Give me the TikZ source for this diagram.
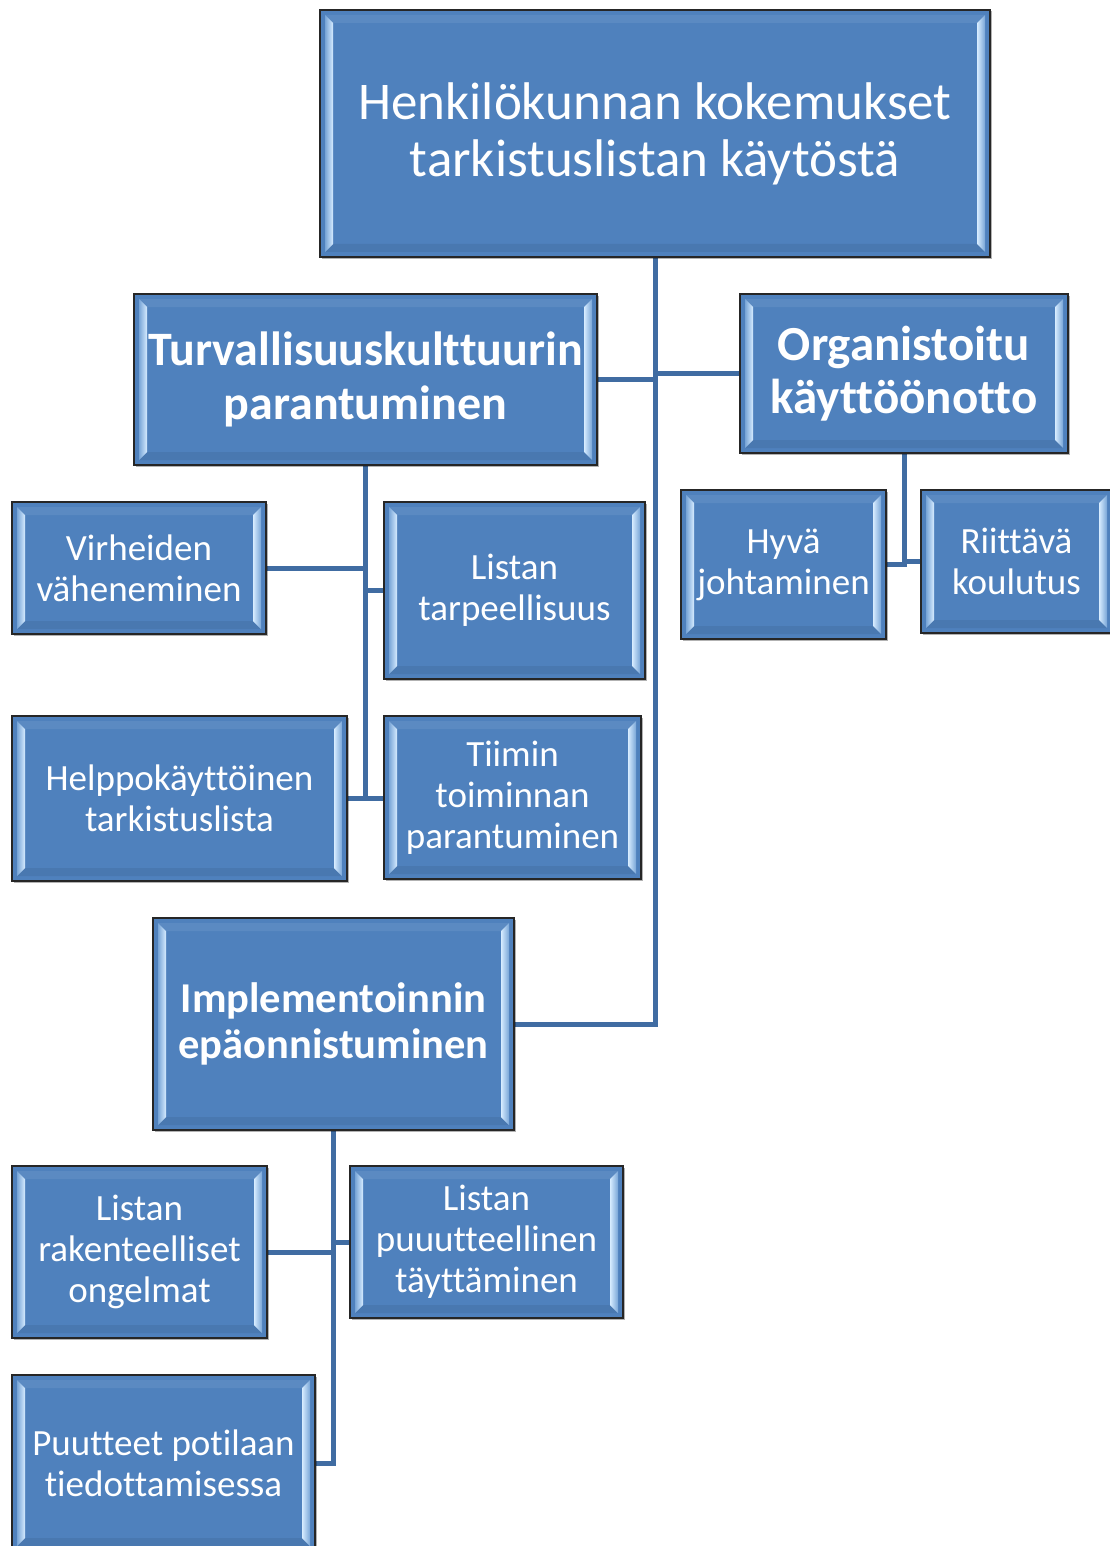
\documentclass[tikz,border=0pt]{standalone}
\usepackage{fontspec}
\setmainfont[Ligatures=CommonOff]{Carlito}
\usetikzlibrary{shadows,backgrounds}
\definecolor{boxblue}{RGB}{79,129,189}
\definecolor{connblue}{RGB}{64,108,162}
\definecolor{bevlight}{RGB}{215,236,255}
\definecolor{bevmid}{RGB}{120,165,215}
\newcommand\bevelstrips{%
  \coordinate (bnw) at (path picture bounding box.north west);
  \coordinate (bne) at (path picture bounding box.north east);
  \coordinate (bsw) at (path picture bounding box.south west);
  \coordinate (bse) at (path picture bounding box.south east);
  \fill[boxblue!93!white] ([shift={(5pt,-5pt)}]bnw) -- ([shift={(-5pt,-5pt)}]bne) -- ([shift={(-13pt,-13pt)}]bne) -- ([shift={(13pt,-13pt)}]bnw) -- cycle;
  \fill[boxblue!93!black] ([shift={(5pt,5pt)}]bsw) -- ([shift={(-5pt,5pt)}]bse) -- ([shift={(-13pt,13pt)}]bse) -- ([shift={(13pt,13pt)}]bsw) -- cycle;
  \shade[left color=bevmid, right color=bevlight] ([shift={(5pt,-5pt)}]bnw) -- ([shift={(13pt,-13pt)}]bnw) -- ([shift={(13pt,13pt)}]bsw) -- ([shift={(5pt,5pt)}]bsw) -- cycle;
  \shade[left color=bevlight, right color=bevmid] ([shift={(-13pt,-13pt)}]bne) -- ([shift={(-5pt,-5pt)}]bne) -- ([shift={(-5pt,5pt)}]bse) -- ([shift={(-13pt,13pt)}]bse) -- cycle;
}
\tikzset{
  bx/.style={draw=black!85, line width=1.6pt, fill=boxblue, text=white, align=center,
    inner sep=0pt,
    drop shadow={shadow xshift=1.5pt, shadow yshift=-1.5pt, opacity=0.3, fill=black},
    path picture={\bevelstrips}},
  bigtxt/.style={font=\fontsize{53}{57}\selectfont},
  boldtxt/.style={font=\fontsize{48}{54}\selectfont\bfseries},
  smalltxt/.style={font=\fontsize{37}{41}\selectfont},
  conn/.style={draw=connblue, line width=5pt, line join=miter},
}
\begin{document}
\begin{tikzpicture}[x=1pt,y=-1pt]
\useasboundingbox (0,0) rectangle (1110,1546);
\node[bx, bigtxt, minimum width=670pt, minimum height=247pt] (top) at (655,133.5) {Henkilökunnan kokemukset\\tarkistuslistan käytöstä};
\node[bx, boldtxt, minimum width=463pt, minimum height=171pt] (turv) at (365.5,379.5) {Turvallisuuskulttuurin\\parantuminen};
\node[bx, font=\fontsize{49}{53}\selectfont\bfseries, minimum width=328pt, minimum height=159pt] (org) at (904,373.5) {Organistoitu\\käyttöönotto};
\node[bx, smalltxt, minimum width=254pt, minimum height=132pt] (virh) at (139,568) {Virheiden\\väheneminen};
\node[bx, smalltxt, minimum width=261pt, minimum height=177pt] (list) at (514.5,590.5) {Listan\\tarpeellisuus};
\node[bx, smalltxt, minimum width=335pt, minimum height=165pt] (help) at (179.5,798.5) {Helppokäyttöinen\\tarkistuslista};
\node[bx, smalltxt, minimum width=257pt, minimum height=163pt] (tiim) at (512.5,797.5) {Tiimin\\toiminnan\\parantuminen};
\node[bx, font=\fontsize{42.5}{46}\selectfont\bfseries, minimum width=361pt, minimum height=212pt] (impl) at (333.5,1024) {Implementoinnin\\epäonnistuminen};
\node[bx, smalltxt, minimum width=205pt, minimum height=149pt] (hyva) at (783.5,564.5) {Hyvä\\johtaminen};
\node[bx, smalltxt, minimum width=191pt, minimum height=143pt] (riit) at (1016.5,561.5) {Riittävä\\koulutus};
\node[bx, smalltxt, minimum width=255pt, minimum height=172pt] (rak) at (139.5,1252) {Listan\\rakenteelliset\\ongelmat};
\node[bx, smalltxt, minimum width=273pt, minimum height=152pt] (puu) at (486.5,1242) {Listan\\puuutteellinen\\täyttäminen};
\node[bx, smalltxt, minimum width=303pt, minimum height=176pt] (puut) at (163.5,1463) {Puutteet potilaan\\tiedottamisessa};
\begin{scope}[on background layer]
\draw[conn] (top.south) -- (top.south |- impl.east) -- (impl.east);
\draw[conn] (turv.east) -- (top.south |- turv.east);
\draw[conn] (top.south |- org.west) -- (org.west);
\draw[conn] (turv.south) -- (turv.south |- help.east);
\draw[conn] (virh.east) -- (turv.south |- virh.east);
\draw[conn] (turv.south |- list.west) -- (list.west);
\draw[conn] (help.east) -- (help.east -| tiim.west);
\draw[conn] (org.south) -- (org.south |- hyva.east) -- (hyva.east);
\draw[conn] (org.south |- riit.west) -- (riit.west);
\draw[conn] (impl.south) -- (impl.south |- puut.east) -- (puut.east);
\draw[conn] (rak.east) -- (impl.south |- rak.east);
\draw[conn] (impl.south |- puu.west) -- (puu.west);
\end{scope}
\end{tikzpicture}
\end{document}
